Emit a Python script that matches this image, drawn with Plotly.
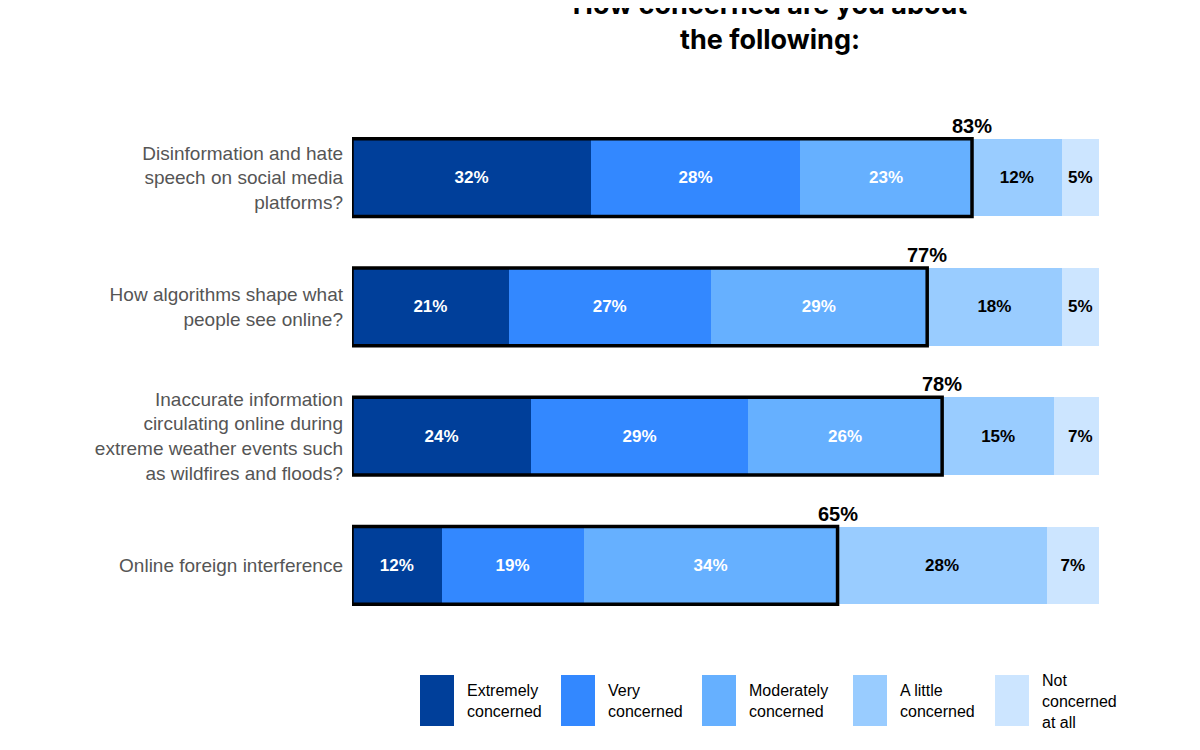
import plotly.graph_objects as go

questions = [
    "Disinformation and hate<br>speech on social media<br>platforms?",
    "How algorithms shape what<br>people see online?",
    "Inaccurate information<br>circulating online during<br>extreme weather events such<br>as wildfires and floods?",
    "Online foreign interference",
]
series = ["Extremely<br>concerned", "Very<br>concerned", "Moderately<br>concerned",
          "A little<br>concerned", "Not<br>concerned<br>at all"]
values = [
    [32, 21, 24, 12],
    [28, 27, 29, 19],
    [23, 29, 26, 34],
    [12, 18, 15, 28],
    [5, 5, 7, 7],
]
totals = [83, 77, 78, 65]
colors = ["#003f9a", "#3388ff", "#66b0ff", "#99ccff", "#cce5ff"]
text_colors = ["white", "white", "white", "black", "black"]

ypos = list(range(len(questions)))
fig = go.Figure()
for name, vals, col, tcol in zip(series, values, colors, text_colors):
    fig.add_trace(go.Bar(
        y=ypos, x=vals, orientation="h", name=name, width=0.6,
        marker=dict(color=col, line=dict(width=0)),
        text=[f"{v}%" for v in vals], textposition="inside", insidetextanchor="middle",
        textfont=dict(color=tcol, size=17, family="Liberation Sans"),
        texttemplate="<b>%{text}</b>", showlegend=False,
    ))

# outline around the "concerned" share and its total
for i, (tot, a, b, c) in enumerate(zip(totals, values[0], values[1], values[2])):
    edge = a + b + c
    fig.add_shape(type="rect", xref="x", yref="y", x0=0, x1=edge, y0=i - 0.3, y1=i + 0.3,
                  line=dict(color="black", width=3.5))
    fig.add_annotation(x=edge, y=i - 0.3, xref="x", yref="y", text=f"<b>{tot}%</b>",
                       showarrow=False, yanchor="bottom", xanchor="center",
                       font=dict(size=20, color="black", family="Liberation Sans"))

# page renders offset by ~8px, compensate
OFF = 8
L, R, T, B = 352 - OFF, 1099 - OFF, 113 - OFF, 630 - OFF
def px(x):
    return (x - OFF - L) / (R - L)
def py(y):
    return (B - (y - OFF)) / (B - T)

legend_x = [420, 561, 702, 853, 995]
for lx, name, col in zip(legend_x, series, colors):
    fig.add_shape(type="rect", xref="paper", yref="paper", x0=px(lx), x1=px(lx + 34),
                  y0=py(726), y1=py(675), fillcolor=col, line=dict(width=0))
    fig.add_annotation(xref="paper", yref="paper", x=px(lx + 45), y=py(701), text=name,
                       showarrow=False, xanchor="left", yanchor="middle", align="left",
                       font=dict(size=16, color="black", family="Liberation Sans"))

fig.update_layout(
    barmode="stack", width=1200, height=750,
    margin=dict(l=L, r=1200 - R, t=T, b=750 - B),
    plot_bgcolor="white", paper_bgcolor="white",
    title=dict(text="<b>How concerned are you about<br>the following:</b>",
               x=(770 - OFF) / 1200, xanchor="center", y=1 - 6 / 750, yanchor="top",
               font=dict(size=27, color="black", family="Inter")),
    xaxis=dict(range=[0, 100], visible=False),
    yaxis=dict(range=[3.5, -0.5], tickvals=ypos, ticktext=questions, showgrid=False,
               zeroline=False, ticks="", ticklabelstandoff=8,
               tickfont=dict(size=19, color="#555555", family="Liberation Sans")),
)
fig.write_html("out.html")
